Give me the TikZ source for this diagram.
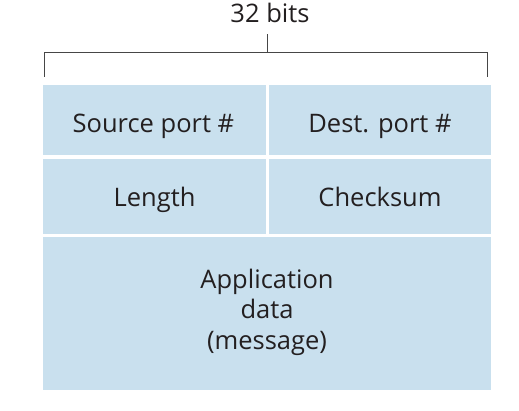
\documentclass[tikz,border=0pt]{standalone}
\usepackage{fontspec}
\setmainfont{Open Sans}
\definecolor{cellblue}{RGB}{201,224,238}
\definecolor{ink}{RGB}{35,31,32}
\definecolor{brk}{RGB}{70,70,70}
\begin{document}
\begin{tikzpicture}[x=1pt,y=-1pt,
  cell/.style={draw=none,fill=cellblue,inner sep=0pt,outer sep=0pt},
  lbl/.style={inner sep=0pt,anchor=base,text=ink,font=\fontsize{25.5}{30.5}\selectfont,align=center},
  brace/.style={draw=brk,line width=1.3pt}]
\useasboundingbox (0,0) rectangle (519,411);
% cells
\path[cell] (43,85) rectangle (266,155.3);
\path[cell] (269.3,85) rectangle (491,155.3);
\path[cell] (43,159.3) rectangle (266,234);
\path[cell] (269.3,159.3) rectangle (491,234);
\path[cell] (43,237.3) rectangle (491,390);
\coordinate (src) at (153.4,132.7);
\coordinate (dst) at (380,132.7);
\coordinate (len) at (154.5,206.7);
\coordinate (chk) at (380,206.7);
\coordinate (app) at (267,349.3);
\node[lbl] (tsrc) at (src) {Source port \#};
\node[lbl] (tdst) at (dst) {Dest. port \#};
\node[lbl] (tlen) at (len) {Length};
\node[lbl] (tchk) at (chk) {Checksum};
\node[lbl] (tapp) at (app) {Application\\data\\(message)};
% bracket
\coordinate (bl) at (44.3,76.7);
\coordinate (blt) at (44.3,52.3);
\coordinate (brt) at (487.3,52.3);
\coordinate (br) at (487.3,76.7);
\coordinate (tk) at (267.7,52.3);
\coordinate (tt) at (267.7,34);
\draw[brace] (bl) -- (blt) -- (brt) -- (br);
\draw[brace] (tk) -- (tt);
\node[lbl] (bits) at (270,22.7) {32 bits};
\end{tikzpicture}
\end{document}
